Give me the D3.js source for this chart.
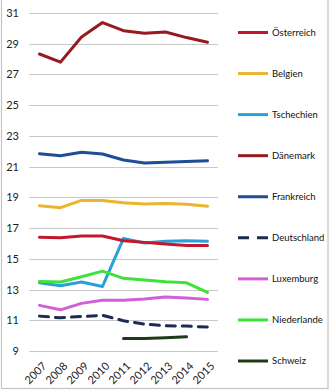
<!DOCTYPE html>
<html>
<head>
<meta charset="utf-8">
<script src="https://cdn.jsdelivr.net/npm/d3@7"></script>
<style>
  html, body { margin: 0; padding: 0; background: #fff; }
  svg { display: block; font-family: Lato, "Open Sans", sans-serif; }
</style>
</head>
<body>
<svg id="chart" width="330" height="390"></svg>
<script>
// Years on the category axis
const years = ["2007", "2008", "2009", "2010", "2011", "2012", "2013", "2014", "2015"];
const yTicks = [9, 11, 13, 15, 17, 19, 21, 23, 25, 27, 29, 31];

// Series values per country (null = no value)
const oesterreich = [16.4, 16.37, 16.48, 16.48, 16.18, 16.07, 15.96, 15.87, 15.87];
const belgien     = [18.46, 18.33, 18.8, 18.8, 18.65, 18.57, 18.6, 18.55, 18.42];
const tschechien  = [13.44, 13.25, 13.49, 13.2, 16.33, 16.03, 16.15, 16.18, 16.14];
const daenemark   = [28.33, 27.8, 29.44, 30.38, 29.85, 29.68, 29.76, 29.4, 29.1];
const frankreich  = [21.84, 21.71, 21.93, 21.82, 21.43, 21.23, 21.28, 21.34, 21.38];
const deutschland = [11.27, 11.16, 11.25, 11.32, 10.97, 10.75, 10.64, 10.62, 10.56];
const luxemburg   = [11.97, 11.68, 12.1, 12.3, 12.3, 12.38, 12.51, 12.45, 12.36];
const niederlande = [13.53, 13.49, 13.83, 14.2, 13.73, 13.62, 13.5, 13.44, 12.81];
const schweiz     = [null, null, null, null, 9.82, 9.82, 9.86, 9.93, null];

const series = [
  { name: "Österreich",  values: oesterreich, color: "#c3182b" },
  { name: "Belgien",     values: belgien,     color: "#e8b52c" },
  { name: "Tschechien",  values: tschechien,  color: "#2a9fd8" },
  { name: "Dänemark",    values: daenemark,   color: "#951b1e" },
  { name: "Frankreich",  values: frankreich,  color: "#1c4f94" },
  { name: "Deutschland", values: deutschland, color: "#1d2b52", dash: "9,7" },
  { name: "Luxemburg",   values: luxemburg,   color: "#d35fd6" },
  { name: "Niederlande", values: niederlande, color: "#3ee23a" },
  { name: "Schweiz",     values: schweiz,     color: "#1d3d16" }
];

// Drawing order: bottom series first so the upper ones overlap correctly
const drawOrder = ["Schweiz", "Deutschland", "Luxemburg", "Tschechien", "Niederlande",
                   "Österreich", "Belgien", "Frankreich", "Dänemark"];

const svg = d3.select("#chart");

// Outer frame
svg.append("rect")
  .attr("x", 1.5).attr("y", -1)
  .attr("width", 326.5).attr("height", 389.5)
  .attr("fill", "none").attr("stroke", "#c4c4c4").attr("stroke-width", 1.2);

const x = d3.scaleBand().domain(years).range([29, 218]);
const y = d3.scaleLinear().domain([9, 31]).range([351, 13]);

// Gridlines
svg.append("g")
  .selectAll("line")
  .data(yTicks)
  .join("line")
  .attr("x1", 29).attr("x2", 218)
  .attr("y1", d => Math.round(y(d)) + 0.5)
  .attr("y2", d => Math.round(y(d)) + 0.5)
  .attr("stroke", "#c8c8c8").attr("stroke-width", 1);

// Y axis labels
const yAxis = d3.axisLeft(y).tickValues(yTicks).tickSize(0).tickPadding(0);
const gy = svg.append("g").attr("transform", "translate(19,0)").call(yAxis);
gy.select(".domain").remove();
gy.selectAll("text")
  .attr("font-family", "Lato, 'Open Sans', sans-serif")
  .attr("font-size", 11).attr("fill", "#222");

// X axis labels, rotated
const xAxis = d3.axisBottom(x).tickSize(0).tickPadding(0);
const gx = svg.append("g").attr("transform", "translate(0,356)").call(xAxis);
gx.select(".domain").remove();
gx.selectAll("text")
  .attr("font-family", "Lato, 'Open Sans', sans-serif")
  .attr("font-size", 11).attr("fill", "#222")
  .attr("text-anchor", "end")
  .attr("y", 0)
  .attr("dy", "0.35em")
  .attr("transform", "translate(5,8) rotate(-45)");

// Lines
const line = d3.line()
  .defined(d => d != null)
  .x((d, i) => x(years[i]) + x.bandwidth() / 2)
  .y(d => y(d));

const byName = new Map(series.map(s => [s.name, s]));
svg.append("g")
  .selectAll("path")
  .data(drawOrder.map(n => byName.get(n)))
  .join("path")
  .attr("d", s => line(s.values))
  .attr("fill", "none")
  .attr("stroke", s => s.color)
  .attr("stroke-width", 3)
  .attr("stroke-linejoin", "round")
  .attr("stroke-linecap", "round")
  .attr("stroke-dasharray", s => s.dash || null);

// Legend
const legendY = d3.scalePoint().domain(series.map(s => s.name)).range([32.5, 361]);
const legend = svg.append("g")
  .selectAll("g")
  .data(series)
  .join("g")
  .attr("transform", s => `translate(0,${legendY(s.name)})`);

legend.append("line")
  .attr("x1", 238).attr("x2", 268)
  .attr("y1", 0).attr("y2", 0)
  .attr("stroke", s => s.color)
  .attr("stroke-width", 3)
  .attr("stroke-dasharray", s => s.dash ? "11,8" : null);

legend.append("text")
  .attr("x", 272).attr("y", 0).attr("dy", "0.35em")
  .attr("font-size", 9.5).attr("fill", "#111")
  .text(s => s.name);
</script>
</body>
</html>
